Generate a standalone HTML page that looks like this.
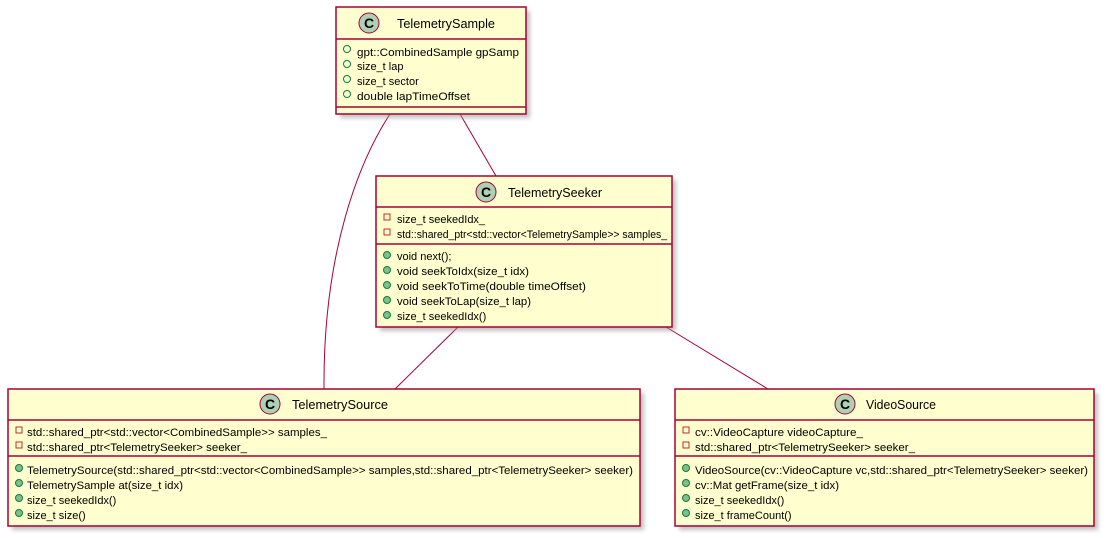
<!DOCTYPE html>
<html><head><meta charset="utf-8"><style>
html,body{margin:0;padding:0;background:#fff;}
svg{display:block;font-family:"Liberation Sans","DejaVu Sans",sans-serif;}
</style></head><body>
<svg width="1107" height="538" viewBox="0 0 1107 538" xmlns="http://www.w3.org/2000/svg">
<defs>
<filter id="sh" x="-5%" y="-5%" width="110%" height="115%"><feGaussianBlur stdDeviation="2"/></filter>
</defs>
<g fill="none" stroke="#A80036" stroke-width="1">
<path d="M390,114 C360,160 323,250 324,389"/>
<path d="M460,114 L496,176"/>
<path d="M458,327 L395,389"/>
<path d="M666,327 L768,389"/>
</g>
<g fill="#999" opacity="0.6" filter="url(#sh)">
<rect x="340" y="11" width="190" height="107"/>
<rect x="380" y="180" width="296" height="151"/>
<rect x="12" y="393" width="632" height="137"/>
<rect x="679" y="393" width="419" height="137"/>
</g>
<g fill="#FEFECE" stroke="#A80036" stroke-width="1.5">
<rect x="336" y="7" width="190" height="107"/>
<rect x="376" y="176" width="296" height="151"/>
<rect x="8" y="389" width="632" height="137"/>
<rect x="675" y="389" width="419" height="137"/>
</g>
<g stroke="#A80036" stroke-width="1.5">
<line x1="336" y1="39" x2="526" y2="39"/><line x1="336" y1="107" x2="526" y2="107"/>
<line x1="376" y1="207" x2="672" y2="207"/><line x1="376" y1="244" x2="672" y2="244"/>
<line x1="8" y1="420" x2="640" y2="420"/><line x1="8" y1="456" x2="640" y2="456"/>
<line x1="675" y1="420" x2="1094" y2="420"/><line x1="675" y1="456" x2="1094" y2="456"/>
</g>
<g fill="#ADD1B2" stroke="#A80036" stroke-width="1">
<circle cx="369" cy="23" r="10"/><circle cx="486" cy="192" r="10"/>
<circle cx="270" cy="404" r="10"/><circle cx="845" cy="404" r="10"/>
</g>
<g font-weight="bold" font-size="14" text-anchor="middle" fill="#000">
<text x="369" y="28">C</text><text x="486" y="197">C</text>
<text x="270" y="409">C</text><text x="845" y="409">C</text>
</g>
<g font-size="13" fill="#000">
<text x="397" y="28" textLength="98" lengthAdjust="spacingAndGlyphs">TelemetrySample</text>
<text x="508" y="197" textLength="94" lengthAdjust="spacingAndGlyphs">TelemetrySeeker</text>
<text x="292" y="409" textLength="96" lengthAdjust="spacingAndGlyphs">TelemetrySource</text>
<text x="866" y="409" textLength="70" lengthAdjust="spacingAndGlyphs">VideoSource</text>
</g>
<g fill="none" stroke="#038048" stroke-width="1">
<circle cx="347" cy="49" r="3.5"/><circle cx="347" cy="64" r="3.5"/><circle cx="347" cy="79" r="3.5"/><circle cx="347" cy="94" r="3.5"/>
</g>
<g fill="none" stroke="#C82930" stroke-width="1">
<rect x="384" y="214" width="6" height="6"/><rect x="384" y="229" width="6" height="6"/>
<rect x="16" y="427" width="6" height="6"/><rect x="16" y="442" width="6" height="6"/>
<rect x="683" y="427" width="6" height="6"/><rect x="683" y="442" width="6" height="6"/>
</g>
<g fill="#84BE84" stroke="#038048" stroke-width="1">
<circle cx="387" cy="255" r="3.5"/><circle cx="387" cy="270" r="3.5"/><circle cx="387" cy="285" r="3.5"/><circle cx="387" cy="300" r="3.5"/><circle cx="387" cy="315" r="3.5"/>
<circle cx="19" cy="468" r="3.5"/><circle cx="19" cy="483" r="3.5"/><circle cx="19" cy="498" r="3.5"/><circle cx="19" cy="513" r="3.5"/>
<circle cx="686" cy="468" r="3.5"/><circle cx="686" cy="483" r="3.5"/><circle cx="686" cy="498" r="3.5"/><circle cx="686" cy="513" r="3.5"/>
</g>
<g font-size="11" fill="#000">
<text x="357" y="56" textLength="162" lengthAdjust="spacingAndGlyphs">gpt::CombinedSample gpSamp</text>
<text x="357" y="70">size_t lap</text>
<text x="357" y="85">size_t sector</text>
<text x="357" y="100" textLength="113" lengthAdjust="spacingAndGlyphs">double lapTimeOffset</text>

<text x="397" y="223">size_t seekedIdx_</text>
<text x="397" y="238" textLength="270" lengthAdjust="spacingAndGlyphs">std::shared_ptr&lt;std::vector&lt;TelemetrySample&gt;&gt; samples_</text>
<text x="397" y="260">void next();</text>
<text x="397" y="275" textLength="132" lengthAdjust="spacingAndGlyphs">void seekToIdx(size_t idx)</text>
<text x="397" y="290" textLength="189" lengthAdjust="spacingAndGlyphs">void seekToTime(double timeOffset)</text>
<text x="397" y="305" textLength="134" lengthAdjust="spacingAndGlyphs">void seekToLap(size_t lap)</text>
<text x="397" y="320">size_t seekedIdx()</text>

<text x="27" y="436" textLength="300" lengthAdjust="spacingAndGlyphs">std::shared_ptr&lt;std::vector&lt;CombinedSample&gt;&gt; samples_</text>
<text x="27" y="451" textLength="220" lengthAdjust="spacingAndGlyphs">std::shared_ptr&lt;TelemetrySeeker&gt; seeker_</text>
<text x="27" y="474" textLength="606" lengthAdjust="spacingAndGlyphs">TelemetrySource(std::shared_ptr&lt;std::vector&lt;CombinedSample&gt;&gt; samples,std::shared_ptr&lt;TelemetrySeeker&gt; seeker)</text>
<text x="27" y="489" textLength="156" lengthAdjust="spacingAndGlyphs">TelemetrySample at(size_t idx)</text>
<text x="27" y="504">size_t seekedIdx()</text>
<text x="27" y="519">size_t size()</text>

<text x="695" y="436" textLength="168" lengthAdjust="spacingAndGlyphs">cv::VideoCapture videoCapture_</text>
<text x="695" y="451" textLength="220" lengthAdjust="spacingAndGlyphs">std::shared_ptr&lt;TelemetrySeeker&gt; seeker_</text>
<text x="695" y="474" textLength="393" lengthAdjust="spacingAndGlyphs">VideoSource(cv::VideoCapture vc,std::shared_ptr&lt;TelemetrySeeker&gt; seeker)</text>
<text x="695" y="489" textLength="144" lengthAdjust="spacingAndGlyphs">cv::Mat getFrame(size_t idx)</text>
<text x="695" y="504">size_t seekedIdx()</text>
<text x="695" y="519">size_t frameCount()</text>
</g>
</svg>
</body></html>
